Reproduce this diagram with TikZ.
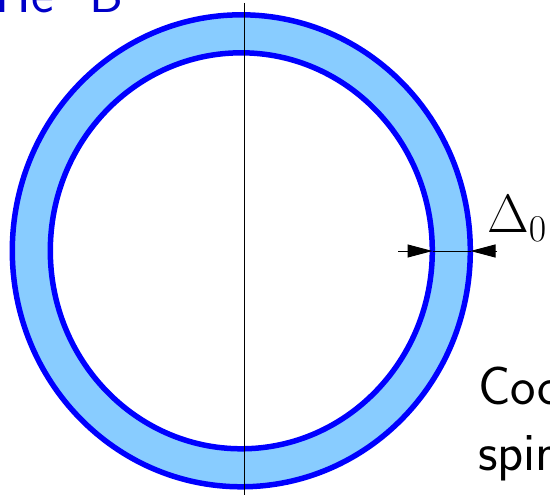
\RequirePackage{fix-cm}
\documentclass[tikz,border=0pt]{standalone}
\usetikzlibrary{arrows.meta}
\definecolor{ringfill}{RGB}{136,204,255}
\definecolor{ringline}{RGB}{0,0,255}
\definecolor{titleblue}{RGB}{0,0,200}
\tikzset{
  ringedge/.style={draw=ringline, line width=5.5pt},
  dimline/.style={draw=black, line width=1pt},
  dimarrow/.style={dimline, -{Triangle[length=25pt,width=13pt]}},
  axisline/.style={draw=black, line width=0.9pt},
  bigsans/.style={font=\fontsize{54}{66}\selectfont\sffamily, inner sep=0pt, anchor=base west},
}
\begin{document}
\begin{tikzpicture}[x=1pt,y=-1pt]
\useasboundingbox (0,0) rectangle (550,495);
\clip (0,0) rectangle (550,495);
\coordinate (c) at (241.3,250.8);
% ring
\fill[ringfill, even odd rule] (c) ellipse [x radius=229pt, y radius=236pt]
  (c) ellipse [x radius=191pt, y radius=198pt];
\draw[ringedge] (c) ellipse [x radius=229pt, y radius=236pt];
\draw[ringedge] (c) ellipse [x radius=191pt, y radius=198pt];
% axis
\coordinate (axtop) at (244.5,3);
\coordinate (axbot) at (244.5,500);
\draw[axisline] (axtop) -- (axbot);
% dimension
\coordinate (dl) at (398,251);
\coordinate (din) at (432.5,251);
\coordinate (dout) at (470.5,251);
\coordinate (dr) at (497,251);
\draw[dimline] (din) -- (dout);
\draw[dimarrow] (dl) -- (din);
\draw[dimarrow] (dr) -- (dout);
\node[inner sep=0pt, anchor=base west, font=\fontsize{54}{60}\selectfont] (delta) at (487,233) {$\Delta_0$};
% texts
\node[bigsans, text=titleblue] (title) at (-5,13) {He--\kern11pt B};
\node[bigsans] (cooper) at (478,404) {Cooper};
\node[bigsans] (spin) at (478,470) {spin};
\end{tikzpicture}
\end{document}
